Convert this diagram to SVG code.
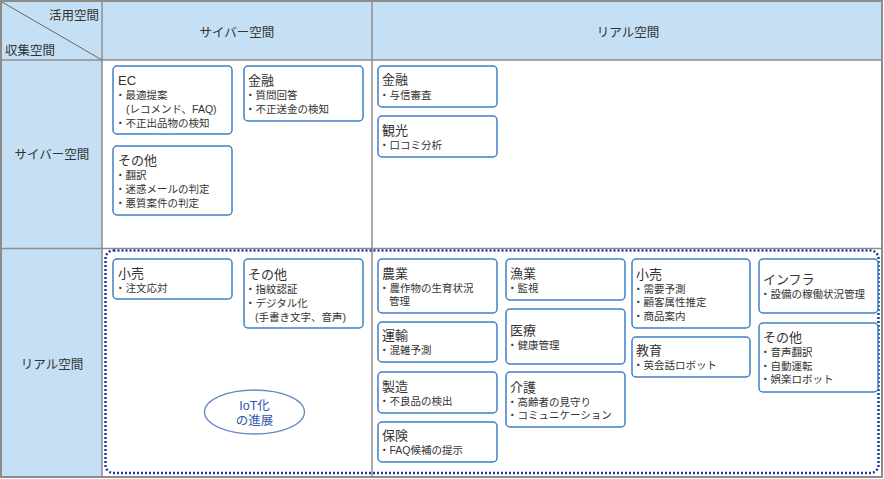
<svg xmlns="http://www.w3.org/2000/svg" width="884" height="479" viewBox="0 0 884 479">
<style>
text{font-family:"Liberation Sans","Noto Sans CJK JP",sans-serif;fill:#333;}
.hd{font-size:12.5px;}
.t{font-size:13px;}
.i{font-size:10.5px;}
.box{fill:#fff;stroke:#3f80c3;stroke-width:1.5;}
.grid{stroke:#8c8c8c;stroke-width:1.5;fill:none;}
</style>
<g id="table">
<rect x="1" y="1" width="881" height="59" fill="#c5e0f4"/>
<rect x="1" y="60" width="101" height="417" fill="#c5e0f4"/>
<rect x="102" y="60" width="780" height="417" fill="#fff"/>
<line class="grid" x1="102" y1="1" x2="102" y2="477"/>
<line class="grid" x1="372" y1="1" x2="372" y2="477"/>
<line class="grid" x1="1" y1="60" x2="882" y2="60"/>
<line class="grid" x1="1" y1="248.5" x2="882" y2="248.5"/>
<line stroke="#666" stroke-width="1" x1="2" y1="2" x2="102" y2="60"/>
<rect x="1" y="1" width="881" height="476" fill="none" stroke="#8c8c8c" stroke-width="2"/>
<text class="hd" x="99" y="20" text-anchor="end">活用空間</text>
<text class="hd" x="5" y="55">収集空間</text>
<text class="hd" x="237" y="37" text-anchor="middle">サイバー空間</text>
<text class="hd" x="628" y="37" text-anchor="middle">リアル空間</text>
<text class="hd" x="52" y="159" text-anchor="middle">サイバー空間</text>
<text class="hd" x="52" y="369" text-anchor="middle">リアル空間</text>
</g>
<g id="iot-area">
<rect x="105.5" y="250.5" width="773" height="222.5" rx="8" fill="none" stroke="#1b3c9e" stroke-width="2.5" stroke-dasharray="2 2"/>
<ellipse cx="254.5" cy="412" rx="50" ry="22" fill="#fff" stroke="#6c8bc9" stroke-width="1.3"/>
<text text-anchor="middle" style="font-size:12.5px;fill:#2d58a8"><tspan x="254.5" y="410">IoT化</tspan><tspan x="254.5" y="424.5">の進展</tspan></text>
</g>
<g id="cc-ec"><rect class="box" x="113" y="66" width="119" height="68" rx="4"/>
<text><tspan class="t" x="118" y="85">EC</tspan><tspan class="i" x="115" y="99">・最適提案</tspan><tspan class="i" x="126" y="113">(レコメンド、FAQ)</tspan><tspan class="i" x="115" y="127">・不正出品物の検知</tspan></text></g>
<g id="cc-kinyu"><rect class="box" x="244" y="66" width="119" height="55" rx="4"/>
<text><tspan class="t" x="248" y="85">金融</tspan><tspan class="i" x="245" y="99">・質問回答</tspan><tspan class="i" x="245" y="113">・不正送金の検知</tspan></text></g>
<g id="cc-other"><rect class="box" x="113" y="146" width="119" height="69" rx="4"/>
<text><tspan class="t" x="118" y="165">その他</tspan><tspan class="i" x="115" y="179">・翻訳</tspan><tspan class="i" x="115" y="193">・迷惑メールの判定</tspan><tspan class="i" x="115" y="207">・悪質案件の判定</tspan></text></g>
<g id="cr-kinyu"><rect class="box" x="378" y="66" width="119" height="41" rx="4"/>
<text><tspan class="t" x="382" y="84">金融</tspan><tspan class="i" x="379" y="99">・与信審査</tspan></text></g>
<g id="cr-kanko"><rect class="box" x="378" y="116" width="119" height="41" rx="4"/>
<text><tspan class="t" x="382" y="135">観光</tspan><tspan class="i" x="379" y="148.5">・口コミ分析</tspan></text></g>
<g id="rc-kouri"><rect class="box" x="113" y="259" width="119" height="40" rx="4"/>
<text><tspan class="t" x="118" y="278">小売</tspan><tspan class="i" x="115" y="292">・注文応対</tspan></text></g>
<g id="rc-other"><rect class="box" x="244" y="259" width="119" height="69" rx="4"/>
<text><tspan class="t" x="248" y="279">その他</tspan><tspan class="i" x="245" y="293">・指紋認証</tspan><tspan class="i" x="245" y="307">・デジタル化</tspan><tspan class="i" x="255" y="321">(手書き文字、音声)</tspan></text></g>
<g id="rr-nogyo"><rect class="box" x="378" y="259" width="119" height="54" rx="4"/>
<text><tspan class="t" x="382" y="278">農業</tspan><tspan class="i" x="379" y="292">・農作物の生育状況</tspan><tspan class="i" x="389" y="305">管理</tspan></text></g>
<g id="rr-unyu"><rect class="box" x="378" y="322" width="119" height="40" rx="4"/>
<text><tspan class="t" x="382" y="340">運輸</tspan><tspan class="i" x="379" y="354">・混雑予測</tspan></text></g>
<g id="rr-seizo"><rect class="box" x="378" y="372" width="119" height="41" rx="4"/>
<text><tspan class="t" x="382" y="391">製造</tspan><tspan class="i" x="379" y="404.5">・不良品の検出</tspan></text></g>
<g id="rr-hoken"><rect class="box" x="378" y="422" width="119" height="40" rx="4"/>
<text><tspan class="t" x="382" y="440">保険</tspan><tspan class="i" x="379" y="454">・FAQ候補の提示</tspan></text></g>
<g id="rr-gyogyo"><rect class="box" x="506" y="259" width="119" height="41" rx="4"/>
<text><tspan class="t" x="510" y="278">漁業</tspan><tspan class="i" x="507" y="292">・監視</tspan></text></g>
<g id="rr-iryo"><rect class="box" x="506" y="309" width="119" height="55" rx="4"/>
<text><tspan class="t" x="510" y="335">医療</tspan><tspan class="i" x="507" y="349">・健康管理</tspan></text></g>
<g id="rr-kaigo"><rect class="box" x="506" y="372" width="119" height="55" rx="4"/>
<text><tspan class="t" x="510" y="392">介護</tspan><tspan class="i" x="507" y="406">・高齢者の見守り</tspan><tspan class="i" x="507" y="419">・コミュニケーション</tspan></text></g>
<g id="rr-kouri"><rect class="box" x="632" y="259" width="118" height="69" rx="4"/>
<text><tspan class="t" x="636" y="279">小売</tspan><tspan class="i" x="633" y="292.5">・需要予測</tspan><tspan class="i" x="633" y="306">・顧客属性推定</tspan><tspan class="i" x="633" y="319.5">・商品案内</tspan></text></g>
<g id="rr-kyoiku"><rect class="box" x="632" y="337" width="118" height="40" rx="4"/>
<text><tspan class="t" x="636" y="355">教育</tspan><tspan class="i" x="633" y="369">・英会話ロボット</tspan></text></g>
<g id="rr-infra"><rect class="box" x="759" y="259" width="119" height="54" rx="4"/>
<text><tspan class="t" x="763" y="284">インフラ</tspan><tspan class="i" x="760" y="298">・設備の稼働状況管理</tspan></text></g>
<g id="rr-other"><rect class="box" x="759" y="323" width="119" height="69" rx="4"/>
<text><tspan class="t" x="763" y="342">その他</tspan><tspan class="i" x="760" y="356">・音声翻訳</tspan><tspan class="i" x="760" y="369.5">・自動運転</tspan><tspan class="i" x="760" y="383">・娯楽ロボット</tspan></text></g>
<g id="connectors"/>
</svg>
